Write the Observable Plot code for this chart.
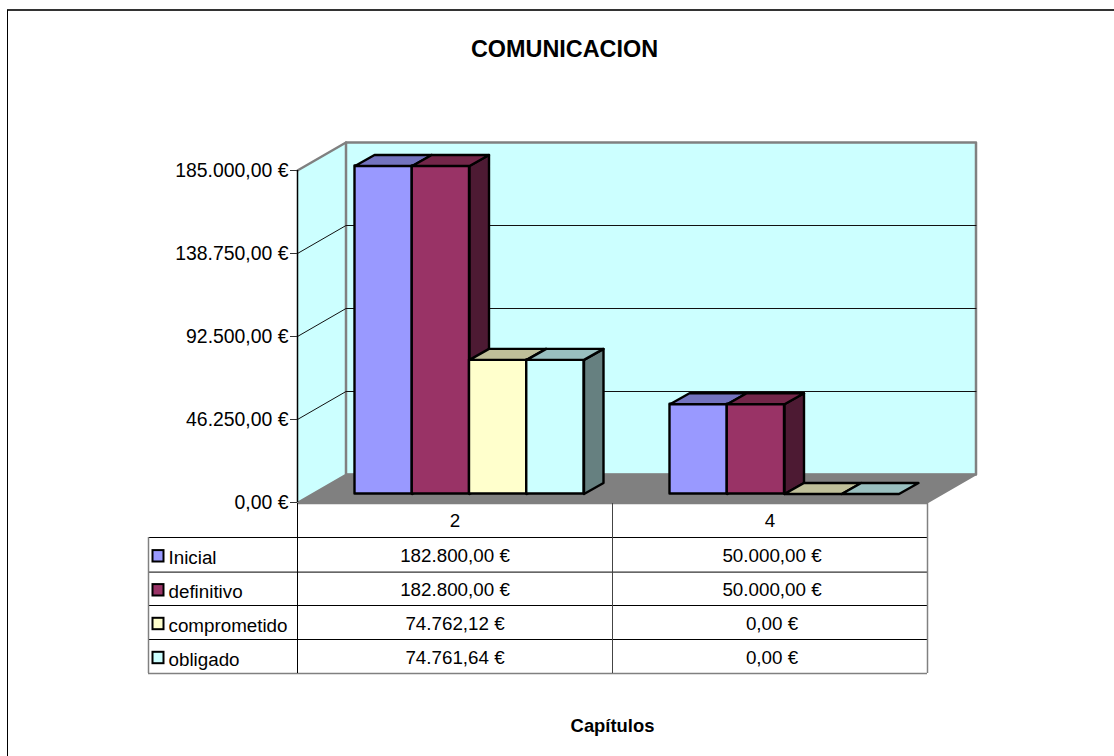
<!DOCTYPE html>
<html>
<head>
<meta charset="utf-8">
<script src="https://cdn.jsdelivr.net/npm/d3@7"></script>
<script src="https://cdn.jsdelivr.net/npm/@observablehq/plot@0.6"></script>
<style>html,body{margin:0;padding:0;background:#fff}svg{display:block}</style>
</head>
<body>
<div id="chart"></div>
<script>
const chartTitle = "COMUNICACION";
const axisTitle = "Capítulos";
const categories = ["2", "4"];
const seriesNames = ["Inicial", "definitivo", "comprometido", "obligado"];
const inicial = [182800.00, 50000.00];
const definitivo = [182800.00, 50000.00];
const comprometido = [74762.12, 0.00];
const obligado = [74761.64, 0.00];
const yTicks = [0, 46250, 92500, 138750, 185000];
const seriesValues = [inicial, definitivo, comprometido, obligado];
const frontColors = ["#9999FF", "#993366", "#FFFFCC", "#CCFFFF"];
const topColors = ["#7373BF", "#732649", "#BFBF99", "#99BFBF"];
const sideColors = ["#4D4D80", "#4D1A33", "#808066", "#668080"];

// Layout of the plotting frame, and pixel <-> data helpers for the table and text around it
const left = 297, right = 927, top0 = 170, base = 502;
const unitX = (right - left) / categories.length;
const unitY = (base - top0) / 185000;
const X = px => (px - left) / unitX;
const Y = px => (base - px) / unitY;
const wallDX = 48.5 / unitX, wallDY = 28 / unitY;
const barDX = 14.5 / unitX, barDY = 8.5 / unitY;
const capDX = 19.5 / unitX, capDY = 11 / unitY;
const barW = 57.25 / unitX;

const euro = v => {
  const [a, b] = v.toFixed(2).split(".");
  return a.replace(/\B(?=(\d{3})+$)/g, ".") + "," + b + " €";
};
const poly = (pts, o) => Plot.line([...pts, pts[0]].map(([x, y]) => ({x, y})), {x: "x", y: "y", ...o});

const marks = [];

// Outer chart frame
marks.push(Plot.ruleY([Y(9.5)], {x1: X(7), x2: X(1114), stroke: "#333", strokeWidth: 2}));
marks.push(Plot.ruleX([X(7)], {y1: Y(10), y2: Y(756), stroke: "#000", strokeWidth: 1}));

// Walls and floor
const yMax = 185000;
marks.push(poly([[0, 0], [wallDX, wallDY], [wallDX, yMax + wallDY], [0, yMax]], {fill: "#CCFFFF", stroke: "none"}));
marks.push(poly([[wallDX, wallDY], [2 + wallDX, wallDY], [2 + wallDX, yMax + wallDY], [wallDX, yMax + wallDY]], {fill: "#CCFFFF", stroke: "#808080", strokeWidth: 2.5}));
marks.push(poly([[0, 0], [wallDX, wallDY], [2 + wallDX, wallDY], [2, 0]], {fill: "#808080", stroke: "#808080"}));
marks.push(Plot.line([{x: 0, y: yMax}, {x: wallDX, y: yMax + wallDY}], {x: "x", y: "y", stroke: "#808080", strokeWidth: 2.5}));

// Gridlines
for (const t of yTicks.slice(1, -1)) {
  marks.push(Plot.line([{x: 0, y: t}, {x: wallDX, y: t + wallDY}, {x: 2 + wallDX, y: t + wallDY}], {x: "x", y: "y", stroke: "#111", strokeWidth: 1}));
}

// Bars: left to right, so each later bar overlaps the side of the one before it
categories.forEach((c, ci) => {
  seriesValues.forEach((vals, si) => {
    const v = vals[ci];
    const x0 = ci + 0.5 + barDX + (si - 2) * barW, x1 = x0 + barW;
    const y0 = barDY, y1 = barDY + v;
    const edge = {stroke: "#000", strokeWidth: 2.4, strokeLinejoin: "round"};
    if (v > 0) {
      marks.push(poly([[x1, y0], [x1 + capDX, y0 + capDY], [x1 + capDX, y1 + capDY], [x1, y1]], {fill: sideColors[si], ...edge}));
      marks.push(Plot.rect([{c, v}], {x1: () => x0, x2: () => x1, y1: () => y0, y2: () => y1, fill: frontColors[si], inset: 0, ...edge}));
    }
    marks.push(poly([[x0, y1], [x1, y1], [x1 + capDX, y1 + capDY], [x0 + capDX, y1 + capDY]], {fill: topColors[si], ...edge}));
  });
});

// Axis
marks.push(Plot.ruleX([0], {y1: 0, y2: yMax, stroke: "#000", strokeWidth: 1.5}));
marks.push(Plot.axisY({ticks: yTicks, tickFormat: euro, tickSize: 7, tickPadding: 2, fontSize: 19.4, label: null, anchor: "left", stroke: "#333", color: "#000"}));

// Data table
const tableLeft = X(148), rowTop = r => Y(503 + [0, 34, 68.6, 102, 136, 170][r]);
marks.push(Plot.ruleY([1, 2, 3, 4].map(rowTop), {x1: tableLeft, x2: 2, stroke: "#000", strokeWidth: 1}));
marks.push(Plot.ruleY([rowTop(5)], {x1: tableLeft, x2: 2, stroke: "#808080", strokeWidth: 1.5}));
marks.push(Plot.ruleY([rowTop(0)], {x1: 0, x2: 2, stroke: "#808080", strokeWidth: 1.5}));
marks.push(Plot.ruleX([tableLeft], {y1: rowTop(1), y2: rowTop(5), stroke: "#808080", strokeWidth: 1.5}));
marks.push(Plot.ruleX([2], {y1: rowTop(0), y2: rowTop(5), stroke: "#808080", strokeWidth: 1.5}));
marks.push(Plot.ruleX([0], {y1: rowTop(0), y2: rowTop(5), stroke: "#000", strokeWidth: 1}));
marks.push(Plot.ruleX([1], {y1: rowTop(0), y2: rowTop(5), stroke: "#444", strokeWidth: 1}));

const fs = 18.8;
marks.push(Plot.text(categories, {x: (d, i) => i + 0.5, y: () => Y(520.5), text: d => d, fontSize: fs, fill: "#000"}));
seriesValues.forEach((vals, si) => {
  const centre = (rowTop(si + 1) + rowTop(si + 2)) / 2;
  marks.push(Plot.text(vals, {x: (d, i) => i + 0.5 + i * 2 / unitX, y: () => centre - 1 / unitY, text: euro, fontSize: fs, fill: "#000"}));
  marks.push(Plot.text([seriesNames[si]], {x: () => X(168), y: () => centre - 3 / unitY, text: d => d, textAnchor: "start", fontSize: fs, fill: "#000"}));
  marks.push(Plot.rect([seriesNames[si]], {x1: () => X(152.5), x2: () => X(163.5), y1: () => centre + 5.7 / unitY - 1.5 / unitY, y2: () => centre - 5.7 / unitY - 1.5 / unitY, fill: frontColors[si], stroke: "#000", strokeWidth: 2}));
});

// Titles
marks.push(Plot.text([chartTitle], {x: () => X(564), y: () => Y(48.5), text: d => d, fontSize: 23.4, fontWeight: "bold", fill: "#000"}));
marks.push(Plot.text([axisTitle], {x: () => X(612), y: () => Y(726), text: d => d, fontSize: 18.4, fontWeight: "bold", fill: "#000"}));

const plot = Plot.plot({
  width: 1114, height: 756,
  marginLeft: left, marginRight: 1114 - right, marginTop: top0, marginBottom: 756 - base,
  x: {domain: [0, categories.length], axis: null},
  y: {domain: [0, yMax], axis: null},
  style: {fontFamily: "'Liberation Sans', Arial, sans-serif", background: "#fff", overflow: "visible"},
  marks
});
document.getElementById("chart").append(plot);
</script>
</body>
</html>
